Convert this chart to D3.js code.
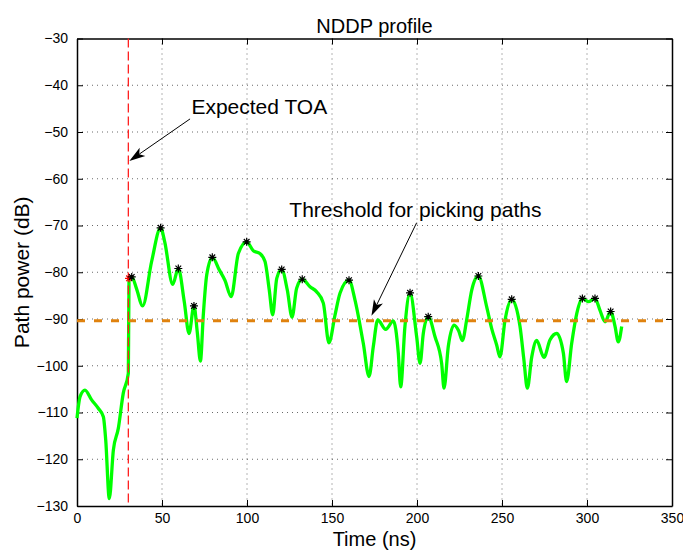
<!DOCTYPE html>
<html>
<head>
<meta charset="utf-8">
<script src="https://cdn.jsdelivr.net/npm/d3@7"></script>
<style>
body { margin: 0; background: #fff; }
text { font-family: "Liberation Sans", Arial, Helvetica, sans-serif; }
</style>
</head>
<body>
<svg id="chart"></svg>
<script>
// profile samples (time in ns, power in dB)
var timeNs = [0, 1.8, 4.7, 8.6, 12.5, 15.5, 16.9, 19, 21.4, 24.3, 27.2, 30.2,
    30.6, 32.2, 35, 38.6, 43.9, 49.2, 51.6, 56.3, 59.6, 63.1, 65.9, 68.8, 70.8, 72.6,
    74.3, 76.3, 79.6, 83.7, 87, 90.7, 94.9, 99.8, 103.7, 107.6, 110.6, 113.1, 115.1,
    117.5, 120.4, 123.7, 126.5, 129.2, 132.5, 137.1, 141, 144.9, 148.2, 151.8, 154.7,
    160, 163.5, 168.4, 171.8, 174.3, 176.9, 181.6, 186.1, 189, 190.4, 192.9, 195.9,
    199.8, 201.8, 203.7, 206.6, 210.6, 214.5, 215.9, 218.4, 221.8, 224.5, 226.7,
    229.2, 232.2, 236.1, 241, 243.9, 246.9, 248.8, 251.8, 255.7, 260.6, 262.9,
    264.9, 267.5, 270.4, 274.7, 278.2, 282.2, 286.1, 288, 291, 294, 297.3, 300.8,
    304.7, 307.6, 310.6, 313.9, 316.5, 318.4, 320.4];
var powerDb = [-111.2, -106.6, -105.2, -107.3, -109.1, -110.9, -115.9, -128.4, -118, -113.4, -105.9, -101.6,
    -81.3, -81, -83.5, -87.2, -77.7, -70.5, -73.5, -82.6, -79.2, -86.3, -93.1, -87.2, -93, -99,
    -89.1, -80.6, -76.8, -79.5, -81.7, -85.2, -76, -73.5, -75.4, -76, -77.7, -83.8, -89.1,
    -81.3, -79.4, -83.8, -89.6, -83.4, -81.5, -83.1, -84.2, -86.6, -95.1, -89.1, -84.5,
    -81.7, -85.9, -95.2, -102.3, -95.9, -90.2, -92.2, -90.4, -97.3, -104.5, -91.6, -84.4,
    -93.8, -99.5, -93.1, -89.5, -93.8, -99.5, -104.8, -95.9, -91.3, -92.5, -94.6,
    -90.2, -83.8, -80.8, -87.4, -92, -95.6, -98.1, -90.2, -85.8, -91.6, -98.8,
    -104.8, -98.1, -94.6, -98.2, -94.5, -93.1, -97.3, -103.4, -95.2, -88.8, -85.6, -86.3,
    -85.6, -88.1, -90.6, -88.4, -91.6, -94.9, -91.6];

// picked paths
var peakTimes = [32.2, 49.2, 59.6, 68.8, 79.6, 99.8, 120.4, 132.5, 160, 195.9, 206.6,
    236.1, 255.7, 297.3, 304.7, 313.9];
var peakPowers = [-81, -70.5, -79.2, -87.2, -76.8, -73.5, -79.4, -81.5, -81.7, -84.4, -89.5,
    -80.8, -85.8, -85.6, -85.6, -88.4];
var firstPathTime = [30.6];
var firstPathPower = [-81.3];

var expectedToa = 30.2;
var threshold = -90.4;

var xTicks = [0, 50, 100, 150, 200, 250, 300, 350];
var yTicks = [-130, -120, -110, -100, -90, -80, -70, -60, -50, -40, -30];

// annotations in data units: text position, arrow tail, arrow tip
var toaNote = {label: "Expected TOA", tx: 67.3, ty: -46.1, ax: 66.5, ay: -47.2, bx: 30.8, by: -56.2};
var thrNote = {label: "Threshold for picking paths", tx: 124.9, ty: -68.1, ax: 199.8, ay: -69.4, bx: 173.2, by: -89.3};

var screen = {width: 683, height: 551};
var margins = {top: 38.5, left: 77, right: 11, bottom: 45};
var graph = {
    width: screen.width - margins.left - margins.right,
    height: screen.height - margins.top - margins.bottom
};

var svg = d3.select("#chart")
    .attr("width", screen.width)
    .attr("height", screen.height);

var g = svg.append("g")
    .attr("transform", "translate(" + margins.left + "," + margins.top + ")");

var xScale = d3.scaleLinear().domain([0, 350]).range([0, graph.width]);
var yScale = d3.scaleLinear().domain([-130, -30]).range([graph.height, 0]);

// grid
g.append("g").selectAll("line")
    .data(xTicks.slice(1, -1))
    .enter().append("line")
    .attr("x1", function(d) { return xScale(d); })
    .attr("x2", function(d) { return xScale(d); })
    .attr("y1", 0).attr("y2", graph.height)
    .attr("stroke", "#444").attr("stroke-width", 0.8)
    .attr("stroke-dasharray", "1,4");

g.append("g").selectAll("line")
    .data(yTicks.slice(1, -1))
    .enter().append("line")
    .attr("y1", function(d) { return yScale(d); })
    .attr("y2", function(d) { return yScale(d); })
    .attr("x1", 0).attr("x2", graph.width)
    .attr("stroke", "#444").attr("stroke-width", 0.8)
    .attr("stroke-dasharray", "1,4");

// axes with inward ticks
var fmt = d3.format("d");
var xAxis = g.append("g")
    .attr("transform", "translate(0," + graph.height + ")")
    .call(d3.axisBottom(xScale).tickValues(xTicks).tickFormat(fmt).tickSizeInner(-6).tickSizeOuter(0).tickPadding(7));
var yAxis = g.append("g")
    .call(d3.axisLeft(yScale).tickValues(yTicks).tickFormat(fmt).tickSizeInner(-6).tickSizeOuter(0).tickPadding(9));
var topAxis = g.append("g")
    .call(d3.axisTop(xScale).tickValues(xTicks).tickFormat("").tickSizeInner(-6).tickSizeOuter(0));
var rightAxis = g.append("g")
    .attr("transform", "translate(" + graph.width + ",0)")
    .call(d3.axisRight(yScale).tickValues(yTicks).tickFormat("").tickSizeInner(-6).tickSizeOuter(0));

[xAxis, yAxis, topAxis, rightAxis].forEach(function(a) {
    a.selectAll("path").attr("stroke", "#000").attr("stroke-width", 1.5);
    a.selectAll("line").attr("stroke", "#000");
    a.selectAll("text").attr("font-size", 14).attr("fill", "#000")
        .style("font-family", "'Liberation Sans', Arial, sans-serif");
});

// green profile
var line = d3.line()
    .x(function(d, i) { return xScale(timeNs[i]); })
    .y(function(d) { return yScale(d); })
    .curve(d3.curveMonotoneX);

g.append("path")
    .datum(powerDb)
    .attr("d", line)
    .attr("fill", "none")
    .attr("stroke", "#00ff00")
    .attr("stroke-width", 3.3)
    .attr("stroke-linejoin", "round");

// threshold
g.append("line")
    .attr("x1", xScale(0)).attr("x2", xScale(350))
    .attr("y1", yScale(threshold)).attr("y2", yScale(threshold))
    .attr("stroke", "#e0820e")
    .attr("stroke-width", 3)
    .attr("stroke-dasharray", "8,9");

// expected toa
g.append("line")
    .attr("x1", xScale(expectedToa)).attr("x2", xScale(expectedToa))
    .attr("y1", 0).attr("y2", graph.height)
    .attr("stroke", "#ff2020")
    .attr("stroke-width", 1.3)
    .attr("stroke-dasharray", "9,4");

// asterisk markers
var asterisk = function(cx, cy, r)
{
    var d = "";
    for (var k = 0; k < 4; k++) {
        var a = k * Math.PI / 4;
        var dx = r * Math.cos(a), dy = r * Math.sin(a);
        d += "M" + (cx - dx) + "," + (cy - dy) + "L" + (cx + dx) + "," + (cy + dy);
    }
    return d;
};

g.append("g").selectAll("path")
    .data(firstPathTime)
    .enter().append("path")
    .attr("d", function(d, i) { return asterisk(xScale(d), yScale(firstPathPower[i]), 4); })
    .attr("stroke", "#ff0000").attr("stroke-width", 1.2);

g.append("g").selectAll("path")
    .data(peakTimes)
    .enter().append("path")
    .attr("d", function(d, i) { return asterisk(xScale(d), yScale(peakPowers[i]), 4); })
    .attr("stroke", "#000").attr("stroke-width", 1.2);

// annotations
var drawNote = function(note)
{
    g.append("text")
        .attr("x", xScale(note.tx))
        .attr("y", yScale(note.ty))
        .attr("font-size", 21)
        .text(note.label);

    var x1 = xScale(note.ax), y1 = yScale(note.ay);
    var x2 = xScale(note.bx), y2 = yScale(note.by);
    var ang = Math.atan2(y2 - y1, x2 - x1);
    var len = 16, half = 5, back = 12;
    var ux = Math.cos(ang), uy = Math.sin(ang);
    var bx = x2 - ux * len, by = y2 - uy * len;
    var nx = x2 - ux * back, ny = y2 - uy * back;

    g.append("line")
        .attr("x1", x1).attr("y1", y1)
        .attr("x2", nx).attr("y2", ny)
        .attr("stroke", "#000").attr("stroke-width", 1);

    g.append("path")
        .attr("d", "M" + x2 + "," + y2 +
            "L" + (bx - uy * half) + "," + (by + ux * half) +
            "L" + nx + "," + ny +
            "L" + (bx + uy * half) + "," + (by - ux * half) + "Z")
        .attr("fill", "#000");
};
drawNote(toaNote);
drawNote(thrNote);

// titles
svg.append("text")
    .attr("x", margins.left + graph.width / 2)
    .attr("y", 33)
    .attr("text-anchor", "middle")
    .attr("font-size", 20)
    .text("NDDP profile");

svg.append("text")
    .attr("x", margins.left + graph.width / 2)
    .attr("y", 546)
    .attr("text-anchor", "middle")
    .attr("font-size", 20)
    .text("Time (ns)");

svg.append("text")
    .attr("transform", "translate(29," + (margins.top + graph.height / 2) + ") rotate(-90)")
    .attr("text-anchor", "middle")
    .attr("font-size", 21)
    .text("Path power (dB)");
</script>
</body>
</html>
